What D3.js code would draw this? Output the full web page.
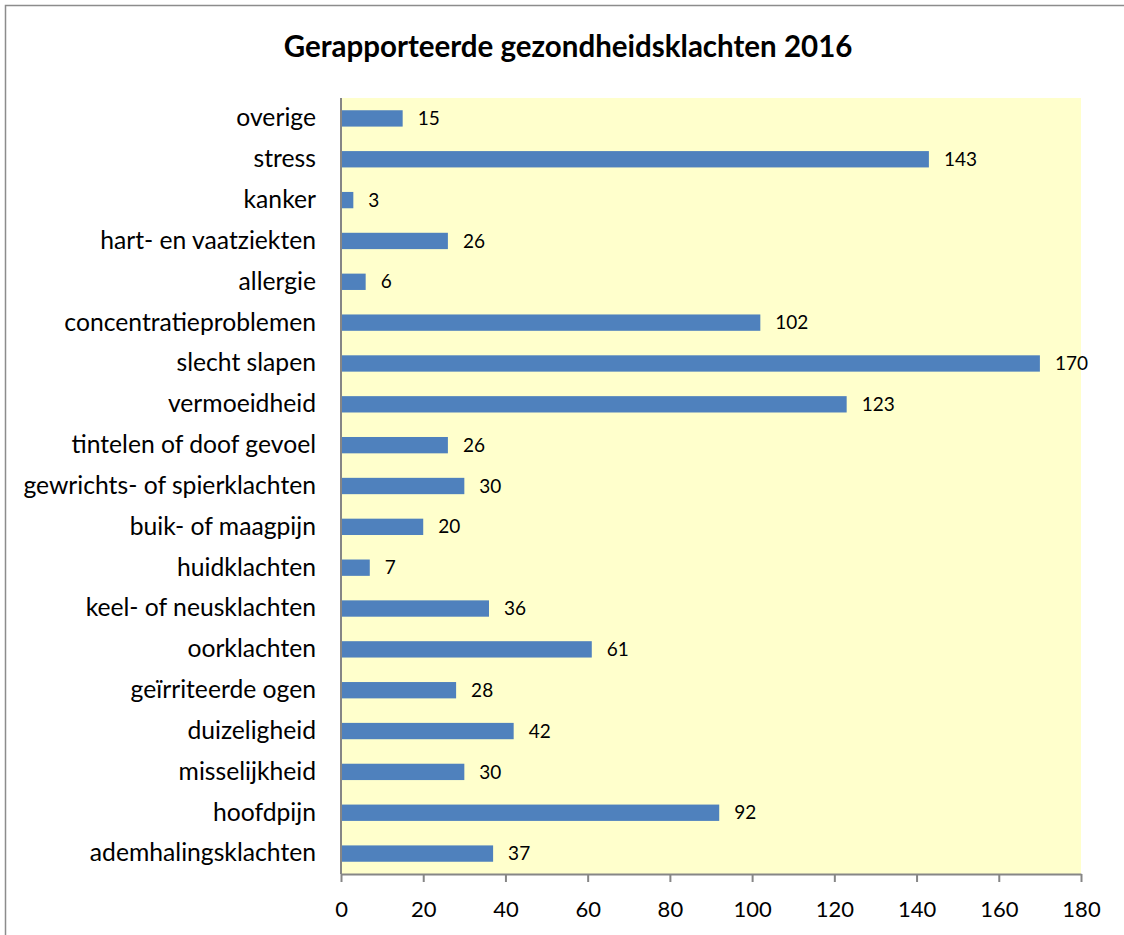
<!DOCTYPE html>
<html>
<head>
<meta charset="utf-8">
<script src="https://cdn.jsdelivr.net/npm/d3@7"></script>
<style>
  html, body { margin: 0; padding: 0; background: #fff; }
  svg { display: block; }
  text { font-family: Lato, "Open Sans", sans-serif; fill: #000; }
</style>
</head>
<body>
<svg id="chart" width="1124" height="935"></svg>
<script>
// categories from top to bottom as shown
var categories = [
    "overige", "stress", "kanker", "hart- en vaatziekten", "allergie",
    "concentratieproblemen", "slecht slapen", "vermoeidheid",
    "tintelen of doof gevoel", "gewrichts- of spierklachten",
    "buik- of maagpijn", "huidklachten", "keel- of neusklachten",
    "oorklachten", "geïrriteerde ogen", "duizeligheid", "misselijkheid",
    "hoofdpijn", "ademhalingsklachten"
];
var counts = [15, 143, 3, 26, 6, 102, 170, 123, 26, 30, 20, 7, 36, 61, 28, 42, 30, 92, 37];
var xTicks = [0, 20, 40, 60, 80, 100, 120, 140, 160, 180];
var title = "Gerapporteerde gezondheidsklachten 2016";

var svg = d3.select("#chart"),
    font = "Lato, 'Open Sans', sans-serif",
    cs = {
        pallette: { bar: "#4F81BD", plot: "#FFFFCC", axis: "#868686", border: "#8C8C8C" },
        left: 341, right: 1081, top: 98, bottom: 874
    };

// outer chart border (runs off the right and bottom edge)
svg.append("rect")
    .attr("x", 5.5).attr("y", 5.5)
    .attr("width", 1130).attr("height", 950)
    .attr("fill", "#fff")
    .attr("stroke", cs.pallette.border)
    .attr("stroke-width", 1.5);

var x = d3.scaleLinear().domain([0, 180]).range([cs.left, cs.right]);
var y = d3.scaleBand().domain(categories).range([cs.top, cs.bottom]).paddingInner(0.6).paddingOuter(0.3);

svg.append("rect")
    .attr("x", cs.left).attr("y", cs.top)
    .attr("width", cs.right - cs.left).attr("height", cs.bottom - cs.top)
    .attr("fill", cs.pallette.plot);

svg.append("text")
    .attr("x", 568).attr("y", 57)
    .attr("text-anchor", "middle")
    .attr("font-size", 29.5).attr("font-weight", "bold")
    .text(title);

var data = categories.map((c, i) => ({ dim: c, metric: counts[i] }));

svg.selectAll("rect.bar")
    .data(data)
    .enter()
    .append("rect")
    .attr("class", "bar")
    .attr("x", x(0))
    .attr("y", d => y(d.dim))
    .attr("width", d => x(d.metric) - x(0))
    .attr("height", y.bandwidth())
    .attr("fill", cs.pallette.bar);

svg.selectAll("text.val")
    .data(data)
    .enter()
    .append("text")
    .attr("class", "val")
    .attr("x", d => x(d.metric) + 15)
    .attr("y", d => y(d.dim) + y.bandwidth() / 2)
    .attr("dy", "0.35em")
    .attr("font-size", 19)
    .text(d => d.metric);

// category axis
var yAxis = d3.axisLeft(y).tickSize(0).tickPadding(25);
var gy = svg.append("g").attr("transform", "translate(" + cs.left + ",0)").call(yAxis);
gy.select(".domain").remove();
gy.attr("font-family", font).attr("font-size", 24.7);
gy.selectAll("text").attr("fill", "#000");
svg.append("line")
    .attr("x1", cs.left).attr("x2", cs.left)
    .attr("y1", cs.top).attr("y2", cs.bottom)
    .attr("stroke", cs.pallette.axis).attr("stroke-width", 2);

// value axis
var xAxis = d3.axisBottom(x).tickValues(xTicks).tickSize(8).tickPadding(19).tickSizeOuter(0);
var gx = svg.append("g").attr("transform", "translate(0," + cs.bottom + ")").call(xAxis);
gx.attr("font-family", font).attr("font-size", 22);
gx.select(".domain").attr("stroke", cs.pallette.axis).attr("stroke-width", 2);
gx.selectAll(".tick line").attr("stroke", cs.pallette.axis).attr("stroke-width", 2);
gx.selectAll("text").attr("fill", "#000");
</script>
</body>
</html>
